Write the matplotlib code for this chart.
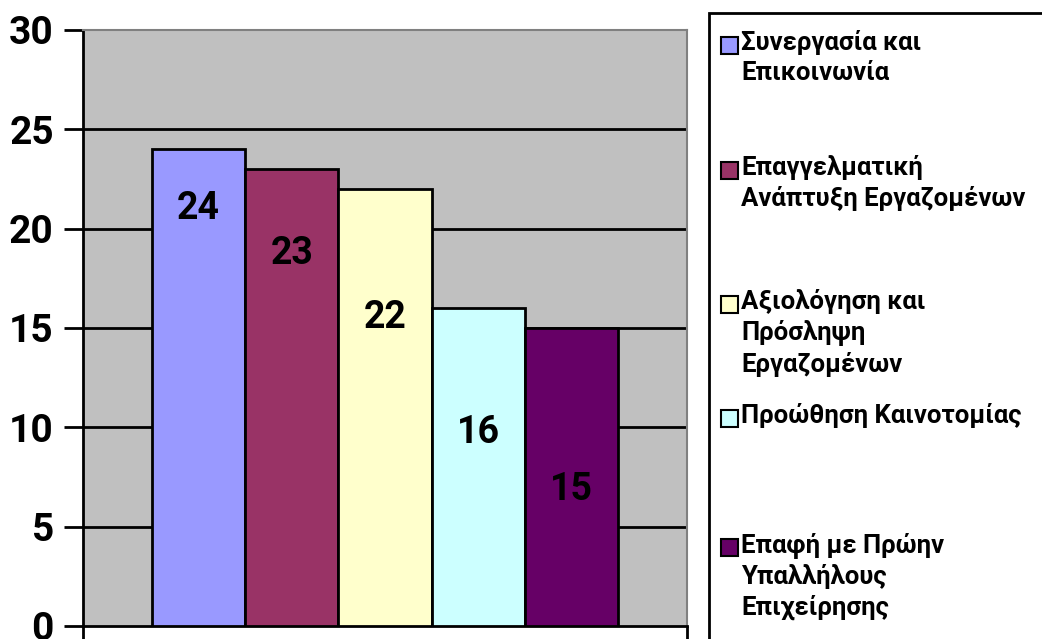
import matplotlib
matplotlib.use("Agg")
import matplotlib.pyplot as plt
from matplotlib.patches import Rectangle

plt.rcParams['font.family'] = ['Roboto', 'DejaVu Sans']
plt.rcParams['font.weight'] = 'bold'

categories = [
    "Συνεργασία και\nΕπικοινωνία",
    "Επαγγελματική\nΑνάπτυξη Εργαζομένων",
    "Αξιολόγηση και\nΠρόσληψη\nΕργαζομένων",
    "Προώθηση Καινοτομίας",
    "Επαφή με Πρώην\nΥπαλλήλους\nΕπιχείρησης",
]
values = [24, 23, 22, 16, 15]
colors = ["#9999FF", "#993366", "#FFFFCC", "#CCFFFF", "#660066"]
yticks = [0, 5, 10, 15, 20, 25, 30]

# how far below the bar top each value label sits (data units)
label_drop = [2.96, 4.23, 6.45, 6.24, 8.11]
# legend entry first-line centres, in pixels from the top of the figure
legend_rows = [45, 170, 304, 418, 547]

W, H = 1042, 639
fig = plt.figure(figsize=(W / 100, H / 100), dpi=100)
ax = fig.add_axes([83 / W, 1 - 626 / H, (687 - 83) / W, (626 - 30) / H])
ax.set_facecolor("#C0C0C0")

x = list(range(len(values)))
ax.bar(x, values, width=1.0, color=colors, edgecolor="black", linewidth=2, zorder=3)

for xi, v, d in zip(x, values, label_drop):
    ax.text(xi, v - d, str(v), ha="center", va="center", fontsize=27,
            fontweight="bold", color="black", zorder=4)

gap = 0.74
ax.set_xlim(-0.5 - gap, len(values) - 0.5 + gap)
ax.set_ylim(0, 30)
ax.set_yticks(yticks)
ax.set_yticklabels([str(t) for t in yticks], fontsize=28, fontweight="bold")
ax.set_xticks([-0.5 - gap, len(values) - 0.5 + gap])
ax.set_xticklabels([])
ax.tick_params(axis="y", direction="out", length=14, width=2, pad=7)
ax.tick_params(axis="x", direction="out", length=14, width=2)

for t in yticks[1:-1]:
    ax.axhline(t, color="black", linewidth=2, zorder=1)

ax.spines["left"].set_linewidth(2)
ax.spines["bottom"].set_linewidth(2)
ax.spines["top"].set_color("#808080")
ax.spines["right"].set_color("#808080")
ax.spines["top"].set_linewidth(1.5)
ax.spines["right"].set_linewidth(1.5)

# legend drawn by hand so the entries can sit where they should
fig.patches.append(Rectangle((709 / W, -0.1), 0.5, 1 - 13 / H + 0.1,
                             transform=fig.transFigure, facecolor="white",
                             edgecolor="black", linewidth=2))
for label, c, row in zip(categories, colors, legend_rows):
    yc = 1 - row / H
    fig.patches.append(Rectangle((721 / W, yc - 9 / H), 17 / W, 17 / H,
                                 transform=fig.transFigure, facecolor=c,
                                 edgecolor="black", linewidth=1.5))
    fig.text(741 / W, yc + 15 / H, label, ha="left", va="top", fontsize=18.5,
             fontweight="bold", linespacing=1.3)

fig.savefig("out.png", dpi=100)
